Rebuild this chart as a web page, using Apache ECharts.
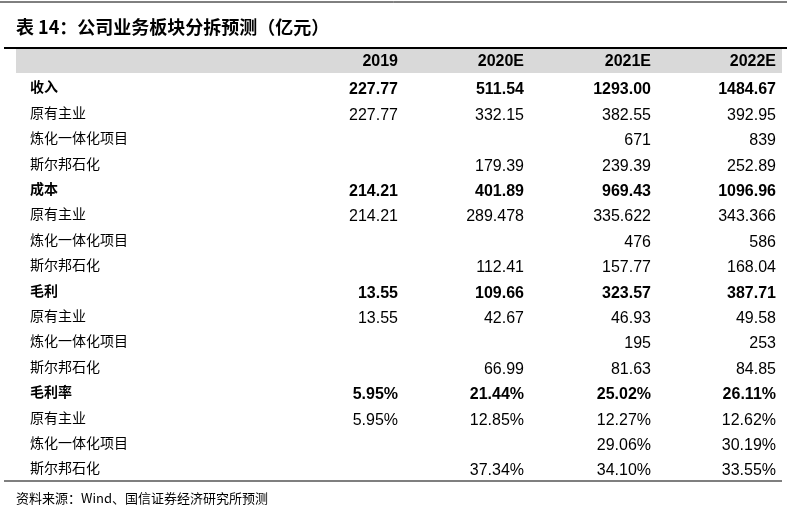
<!DOCTYPE html>
<html>
<head>
<meta charset="utf-8">
<script src="https://cdnjs.cloudflare.com/ajax/libs/echarts/6.0.0/echarts.min.js"></script>
<style>html,body,#main{margin:0;padding:0;width:787px;height:512px;background:#fff;}</style>
</head>
<body>
<div id="main"></div>
<script>
var title = '表 14：公司业务板块分拆预测（亿元）';
var source = '资料来源：Wind、国信证券经济研究所预测';
var years = ['2019', '2020E', '2021E', '2022E'];
var rowLabels = ['收入', '原有主业', '炼化一体化项目', '斯尔邦石化',
                 '成本', '原有主业', '炼化一体化项目', '斯尔邦石化',
                 '毛利', '原有主业', '炼化一体化项目', '斯尔邦石化',
                 '毛利率', '原有主业', '炼化一体化项目', '斯尔邦石化'];
var boldRows = [0, 4, 8, 12];
var col2019 = ['227.77', '227.77', '', '', '214.21', '214.21', '', '', '13.55', '13.55', '', '', '5.95%', '5.95%', '', ''];
var col2020 = ['511.54', '332.15', '', '179.39', '401.89', '289.478', '', '112.41', '109.66', '42.67', '', '66.99', '21.44%', '12.85%', '', '37.34%'];
var col2021 = ['1293.00', '382.55', '671', '239.39', '969.43', '335.622', '476', '157.77', '323.57', '46.93', '195', '81.63', '25.02%', '12.27%', '29.06%', '34.10%'];
var col2022 = ['1484.67', '392.95', '839', '252.89', '1096.96', '343.366', '586', '168.04', '387.71', '49.58', '253', '84.85', '26.11%', '12.62%', '30.19%', '33.55%'];

var cols = [col2019, col2020, col2021, col2022];
var colRight = [398, 524, 651, 776];
var rowY0 = 90, rowH = 25.4;
var cjk = '"Noto Sans CJK SC", sans-serif';
var num = '"Liberation Sans", Arial, sans-serif';

var els = [];
els.push({type: 'line', shape: {x1: 0, y1: 2, x2: 787, y2: 2}, style: {stroke: '#000', lineWidth: 1}});
els.push({type: 'text', x: 16, y: 27, style: {text: title, font: 'bold 18px ' + cjk, fill: '#000', textVerticalAlign: 'middle'}});
els.push({type: 'line', shape: {x1: 4, y1: 48, x2: 787, y2: 48}, style: {stroke: '#000', lineWidth: 2}});
els.push({type: 'rect', shape: {x: 16, y: 49, width: 766, height: 24}, style: {fill: '#d9d9d9'}});
years.forEach(function (y, i) {
    els.push({type: 'text', x: colRight[i], y: 62, style: {text: y, font: 'bold 16px ' + num, fill: '#000', textAlign: 'right', textVerticalAlign: 'middle'}});
});
rowLabels.forEach(function (lab, r) {
    var yy = rowY0 + r * rowH;
    var bold = boldRows.indexOf(r) >= 0;
    els.push({type: 'text', x: 30, y: yy - 3, style: {text: lab, font: (bold ? 'bold ' : '') + '14px ' + cjk, fill: '#000', textVerticalAlign: 'middle'}});
    cols.forEach(function (c, i) {
        if (!c[r]) return;
        els.push({type: 'text', x: colRight[i], y: yy, style: {text: c[r], font: (bold ? 'bold ' : '') + '16px ' + num, fill: '#000', textAlign: 'right', textVerticalAlign: 'middle'}});
    });
});
els.push({type: 'line', shape: {x1: 4, y1: 481, x2: 782, y2: 481}, style: {stroke: '#000', lineWidth: 1.2}});
els.push({type: 'text', x: 16, y: 498, style: {text: source, font: '13px ' + cjk, fill: '#000', textVerticalAlign: 'middle'}});

var chart = echarts.init(document.getElementById('main'));
chart.setOption({animation: false, graphic: {elements: els}});
</script>
</body>
</html>
